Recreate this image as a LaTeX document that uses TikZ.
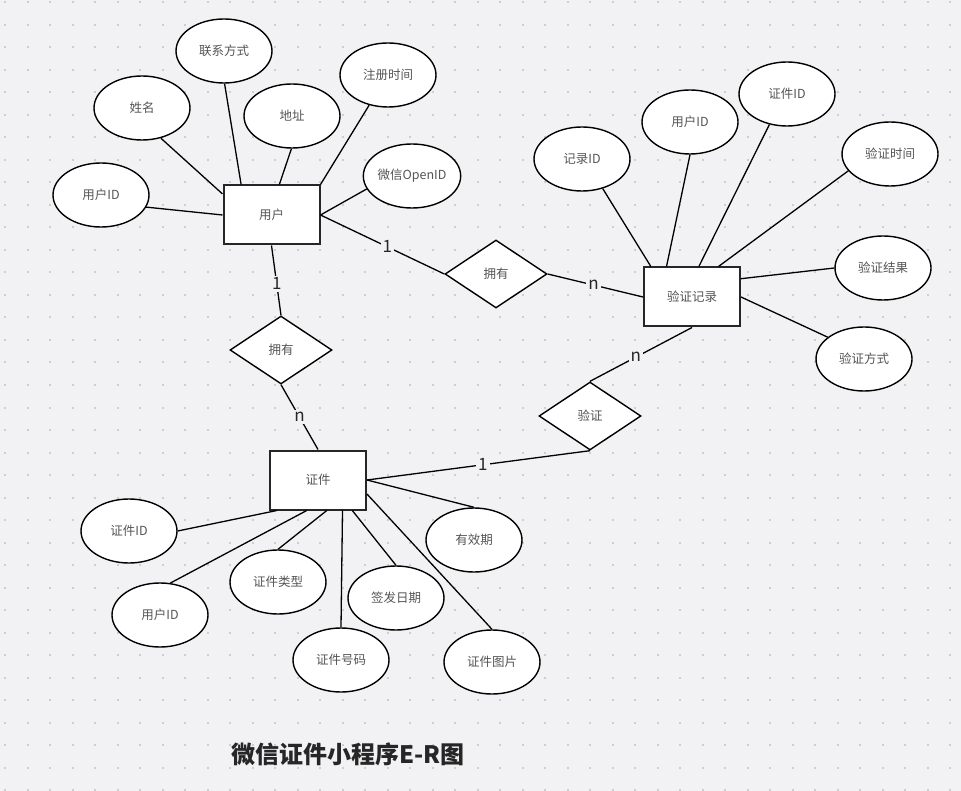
\documentclass[tikz,border=0pt]{standalone}
\usepackage{fontspec}
\setmainfont{Noto Sans CJK SC}
\usetikzlibrary{shapes.geometric,calc}
\definecolor{bg}{HTML}{F2F2F4}
\definecolor{dotc}{HTML}{CDCDD2}
\definecolor{txt}{HTML}{555555}
\definecolor{edge}{HTML}{262626}
\begin{document}
\begin{tikzpicture}[x=1pt,y=-1pt,
  attr/.style={ellipse, draw=black, line width=1.4pt, fill=white, minimum width=96pt, minimum height=64pt, inner sep=0pt, text=txt, font=\fontsize{12.5}{14}\selectfont},
  entity/.style={rectangle, draw=edge, line width=2pt, fill=white, minimum width=96pt, minimum height=59pt, inner sep=0pt, text=txt, font=\fontsize{12.5}{14}\selectfont},
  rel/.style={diamond, draw=black, line width=1.4pt, fill=white, minimum width=102pt, minimum height=68pt, inner sep=0pt, text=txt, font=\fontsize{12.5}{14}\selectfont},
  conn/.style={draw=black, line width=1.3pt},
  card/.style={fill=bg, inner sep=2pt, text=edge, font=\fontsize{17}{18}\selectfont}
]
\fill[bg] (0,0) rectangle (961,791);
\useasboundingbox (0,0) rectangle (961,791);
\foreach \i in {0,...,42} {\foreach \j in {0,...,35} {\fill[dotc] ({4+22.5*\i},{1.5+22.5*\j}) rectangle ++(2,2);}}

% entities
\node[entity] (u) at (271.5,215) {用户};
\node[entity] (z) at (318,480) {证件};
\node[entity] (v) at (692,297) {验证记录};

% relationships
\node[rel] (r1) at (496,274) {拥有};
\node[rel] (r2) at (281,350) {拥有};
\node[rel] (r3) at (590,416) {验证};

% user attributes
\node[attr] (u1) at (224,51) {联系方式};
\node[attr] (u2) at (142,108) {姓名};
\node[attr] (u3) at (292,116) {地址};
\node[attr] (u4) at (388,75) {注册时间};
\node[attr] (u5) at (101,195) {用户ID};
\node[attr] (u6) at (412,176) {微信OpenID};

% record attributes
\node[attr] (v1) at (582,159) {记录ID};
\node[attr] (v2) at (690,122) {用户ID};
\node[attr] (v3) at (787,94) {证件ID};
\node[attr] (v4) at (890,154) {验证时间};
\node[attr] (v5) at (883,268) {验证结果};
\node[attr] (v6) at (864,359) {验证方式};

% certificate attributes
\node[attr] (z1) at (129,531) {证件ID};
\node[attr] (z2) at (160,615) {用户ID};
\node[attr] (z3) at (278,582) {证件类型};
\node[attr] (z4) at (396,598) {签发日期};
\node[attr] (z5) at (341,660) {证件号码};
\node[attr] (z6) at (492,662) {证件图片};
\node[attr] (z7) at (474,540) {有效期};

% user attribute lines
\draw[conn] (u1.-89) -- ($(u.north west)!0.19!(u.north east)$);
\draw[conn] (u2.-58) -- ($(u.north west)!0.155!(u.south west)$);
\draw[conn] (u3.-91) -- ($(u.north west)!0.58!(u.north east)$);
\draw[conn] (u4.-122) -- (u.north east);
\draw[conn] (u5.-15) -- (u.west);
\draw[conn] (u6.-164) -- (u.east);

% record attribute lines
\draw[conn] (v1.-55) -- ($(v.north west)!0.08!(v.north east)$);
\draw[conn] (v2.-90) -- ($(v.north west)!0.24!(v.north east)$);
\draw[conn] (v3.-120) -- ($(v.north west)!0.57!(v.north east)$);
\draw[conn] (v4.-158) -- ($(v.north west)!0.77!(v.north east)$);
\draw[conn] (v5.180) -- ($(v.north east)!0.2!(v.south east)$);
\draw[conn] (v6.149) -- (v.east);

% certificate attribute lines
\draw[conn] (z1.0) -- ($(z.south west)!0.08!(z.south east)$);
\draw[conn] (z2.72) -- ($(z.south west)!0.385!(z.south east)$);
\draw[conn] (z3.90) -- ($(z.south west)!0.59!(z.south east)$);
\draw[conn] (z5.90) -- ($(z.south west)!0.75!(z.south east)$);
\draw[conn] (z4.90) -- ($(z.south west)!0.85!(z.south east)$);
\draw[conn] (z6.90) -- ($(z.north east)!0.73!(z.south east)$);
\draw[conn] (z7.90) -- (z.east);

% relationship lines with cardinalities
\draw[conn] (u.east) -- node[card, pos=0.54] {1} (r1.west);
\draw[conn] (r1.east) -- node[card, pos=0.48] {n} (v.west);
\draw[conn] (u.south) -- node[card, pos=0.55] {1} (r2.north);
\draw[conn] (r2.south) -- node[card, pos=0.5] {n} (z.north);
\draw[conn] (v.south) -- node[card, pos=0.55] {n} (r3.north);
\draw[conn] (z.east) -- node[card, pos=0.52] {1} (r3.south);

% title
\node[text=black!85, font=\bfseries\fontsize{24}{26}\selectfont] (title) at (348,754) {微信证件小程序E-R图};
\end{tikzpicture}
\end{document}
